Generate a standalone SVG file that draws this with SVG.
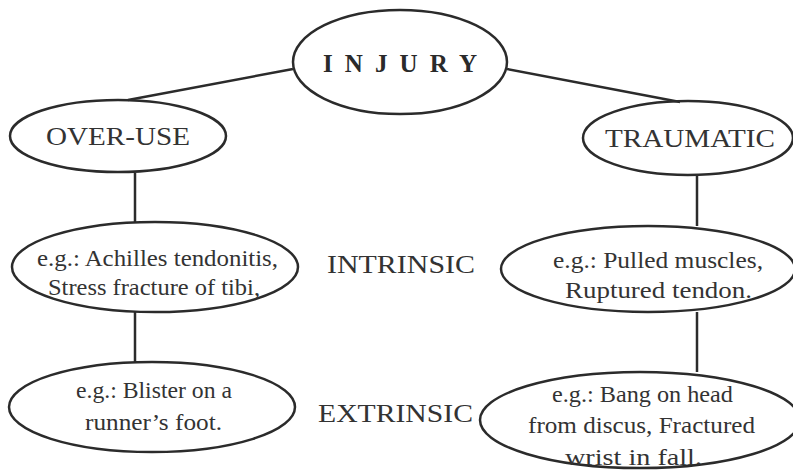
<svg xmlns="http://www.w3.org/2000/svg" width="793" height="470" viewBox="0 0 793 470">
<style>
.n{fill:none;stroke:#2b2b2b;stroke-width:2.5}
.c line{stroke:#2b2b2b;stroke-width:2.5}
text{font-family:'Liberation Serif','Times New Roman',serif;fill:#333}
.h{font-size:26px}
.b{font-size:24px}
.t{font-size:25px;font-weight:bold;fill:#2a2a2a}
</style>
<rect width="793" height="470" fill="#fff"/>
<g class="c" id="connectors">
<line x1="293" y1="69" x2="128" y2="100"/>
<line x1="507" y1="69" x2="680" y2="102"/>
<line x1="135" y1="173" x2="135" y2="223"/>
<line x1="135" y1="312" x2="135" y2="363"/>
<line x1="697" y1="175" x2="697" y2="226"/>
<line x1="697" y1="312" x2="697" y2="372"/>
</g>
<g id="injury">
<ellipse class="n" cx="400" cy="62" rx="107" ry="52"/>
<text class="t" x="323" y="72" textLength="154" lengthAdjust="spacing">INJURY</text>
</g>
<g id="overuse">
<ellipse class="n" cx="118" cy="136" rx="108" ry="36"/>
<text class="h" x="46" y="145" textLength="144" lengthAdjust="spacingAndGlyphs">OVER-USE</text>
</g>
<g id="traumatic">
<ellipse class="n" cx="688" cy="138" rx="105" ry="37"/>
<text class="h" x="605" y="147" textLength="170" lengthAdjust="spacingAndGlyphs">TRAUMATIC</text>
</g>
<g id="overuse-intrinsic">
<ellipse class="n" cx="155" cy="267" rx="143" ry="45"/>
<text class="b" x="37" y="266" textLength="241" lengthAdjust="spacingAndGlyphs">e.g.: Achilles tendonitis,</text>
<text class="b" x="48" y="295" textLength="212" lengthAdjust="spacingAndGlyphs">Stress fracture of tibi,</text>
</g>
<g id="overuse-extrinsic">
<ellipse class="n" cx="152" cy="407" rx="143" ry="45"/>
<text class="b" x="76" y="398" textLength="156" lengthAdjust="spacingAndGlyphs">e.g.: Blister on a</text>
<text class="b" x="85" y="430" textLength="137" lengthAdjust="spacingAndGlyphs">runner’s foot.</text>
</g>
<g id="intrinsic-label">
<text class="h" x="327" y="273" textLength="148" lengthAdjust="spacingAndGlyphs">INTRINSIC</text>
</g>
<g id="extrinsic-label">
<text class="h" x="318" y="422" textLength="155" lengthAdjust="spacingAndGlyphs">EXTRINSIC</text>
</g>
<g id="traumatic-intrinsic">
<ellipse class="n" cx="648" cy="269" rx="147" ry="43"/>
<text class="b" x="553" y="268" textLength="210" lengthAdjust="spacingAndGlyphs">e.g.: Pulled muscles,</text>
<text class="b" x="565" y="298" textLength="187" lengthAdjust="spacingAndGlyphs">Ruptured tendon.</text>
</g>
<g id="traumatic-extrinsic">
<ellipse class="n" cx="640" cy="420" rx="160" ry="48"/>
<text class="b" x="552" y="402" textLength="181" lengthAdjust="spacingAndGlyphs">e.g.: Bang on head</text>
<text class="b" x="528" y="433" textLength="227" lengthAdjust="spacingAndGlyphs">from discus, Fractured</text>
<text class="b" x="565" y="465" textLength="137" lengthAdjust="spacingAndGlyphs">wrist in fall.</text>
</g>
</svg>
